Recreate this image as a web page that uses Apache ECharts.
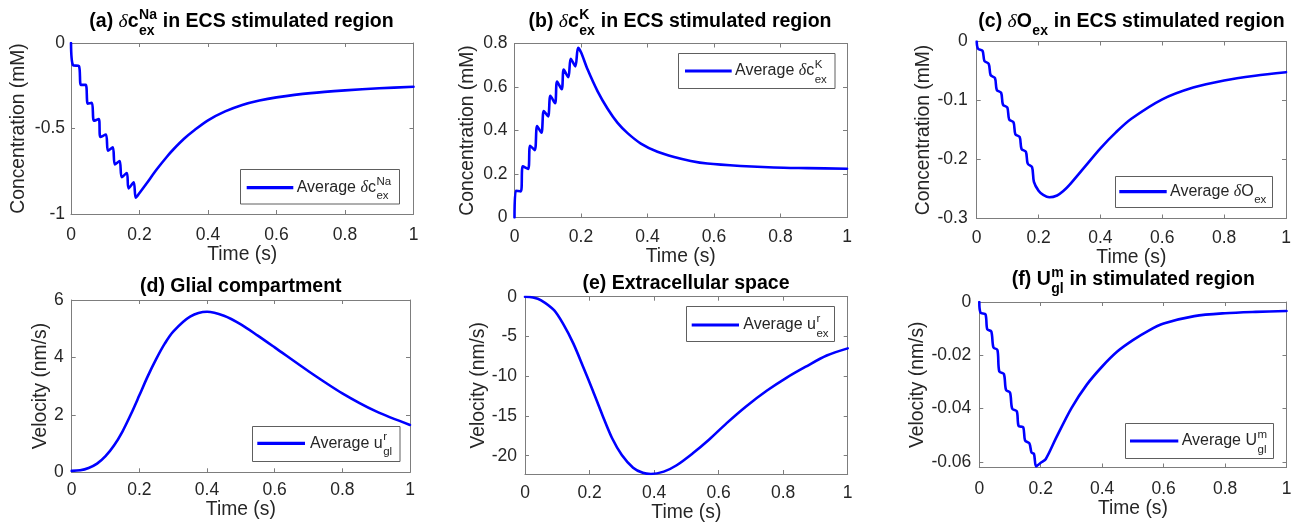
<!DOCTYPE html>
<html>
<head>
<meta charset="utf-8">
<script src="https://cdn.jsdelivr.net/npm/echarts@6/dist/echarts.min.js"></script>
<style>
  html, body { margin: 0; padding: 0; background: #ffffff; }
  #chart { width: 1296px; height: 523px; }
</style>
</head>
<body>
<div id="chart"></div>
<script>
// ---- shared time axis ----
const timeTicks = [0, 0.2, 0.4, 0.6, 0.8, 1];

// (a) sodium concentration change in the ECS (mM)
const naTime  = [0, 0.006, 0.023, 0.029, 0.043, 0.049, 0.061, 0.067, 0.081, 0.086, 0.102, 0.108, 0.122, 0.128, 0.142, 0.148, 0.163, 0.168, 0.183, 0.189, 0.2, 0.22, 0.25, 0.28, 0.3, 0.33, 0.36, 0.4, 0.45, 0.5, 0.55, 0.6, 0.7, 0.8, 0.9, 1.0];
const naValue = [0, -0.13, -0.135, -0.245, -0.245, -0.355, -0.35, -0.455, -0.445, -0.55, -0.535, -0.63, -0.61, -0.71, -0.69, -0.785, -0.76, -0.85, -0.815, -0.905, -0.877, -0.823, -0.74, -0.665, -0.62, -0.56, -0.51, -0.452, -0.4, -0.362, -0.336, -0.318, -0.293, -0.277, -0.265, -0.256];
const naTicks = [-1, -0.5, 0];

// (b) potassium concentration change in the ECS (mM)
const kTime  = [0, 0.004, 0.019, 0.025, 0.041, 0.047, 0.061, 0.068, 0.081, 0.088, 0.101, 0.108, 0.122, 0.128, 0.142, 0.148, 0.162, 0.169, 0.183, 0.191, 0.2, 0.22, 0.25, 0.28, 0.31, 0.34, 0.38, 0.43, 0.48, 0.53, 0.58, 0.68, 0.78, 0.88, 1.0];
const kValue = [0, 0.123, 0.12, 0.235, 0.223, 0.33, 0.31, 0.42, 0.39, 0.49, 0.465, 0.56, 0.525, 0.625, 0.59, 0.68, 0.645, 0.73, 0.695, 0.78, 0.76, 0.68, 0.58, 0.5, 0.435, 0.388, 0.34, 0.302, 0.278, 0.26, 0.248, 0.237, 0.23, 0.227, 0.224];
const kTicks = [0, 0.2, 0.4, 0.6, 0.8];

// (c) oxygen concentration change in the ECS (mM)
const oTime  = [0, 0.004, 0.019, 0.025, 0.039, 0.045, 0.059, 0.065, 0.079, 0.085, 0.099, 0.105, 0.119, 0.125, 0.139, 0.145, 0.159, 0.165, 0.179, 0.185, 0.2, 0.215, 0.235, 0.26, 0.28, 0.3, 0.35, 0.4, 0.45, 0.5, 0.6, 0.7, 0.8, 0.9, 1.0];
const oValue = [0, -0.012, -0.016, -0.033, -0.038, -0.057, -0.062, -0.082, -0.087, -0.107, -0.112, -0.132, -0.137, -0.157, -0.162, -0.182, -0.187, -0.207, -0.213, -0.238, -0.253, -0.26, -0.264, -0.261, -0.2535, -0.243, -0.212, -0.181, -0.154, -0.131, -0.098, -0.078, -0.066, -0.058, -0.052];
const oTicks = [-0.3, -0.2, -0.1, 0];

// (d) radial velocity in the glial compartment (nm/s)
const glTime  = [0, 0.025, 0.05, 0.075, 0.1, 0.125, 0.15, 0.175, 0.2, 0.225, 0.25, 0.275, 0.3, 0.35, 0.4, 0.45, 0.5, 0.55, 0.6, 0.7, 0.8, 0.9, 1.0];
const glValue = [0.05, 0.07, 0.15, 0.3, 0.56, 0.93, 1.42, 2.02, 2.68, 3.35, 3.95, 4.48, 4.9, 5.42, 5.59, 5.45, 5.15, 4.76, 4.35, 3.52, 2.75, 2.12, 1.65];
const glTicks = [0, 2, 4, 6];

// (e) radial velocity in the extracellular space (nm/s)
const exTime  = [0, 0.025, 0.05, 0.09, 0.12, 0.15, 0.18, 0.21, 0.24, 0.27, 0.3, 0.335, 0.365, 0.39, 0.43, 0.47, 0.52, 0.57, 0.625, 0.685, 0.75, 0.81, 0.87, 0.935, 1.0];
const exValue = [0, -0.1, -0.45, -1.7, -3.55, -5.9, -8.8, -11.8, -14.9, -17.8, -19.9, -21.5, -22.15, -22.3, -22.0, -21.2, -19.7, -18.0, -15.9, -13.8, -11.8, -10.2, -8.8, -7.4, -6.5];
const exTicks = [-20, -15, -10, -5, 0];

// (f) glial membrane velocity in the stimulated region (nm/s)
const gmTime  = [0, 0.004, 0.02, 0.026, 0.039, 0.046, 0.059, 0.065, 0.08, 0.087, 0.1, 0.107, 0.122, 0.128, 0.143, 0.149, 0.163, 0.17, 0.178, 0.185, 0.2, 0.216, 0.25, 0.3, 0.35, 0.4, 0.45, 0.5, 0.55, 0.6, 0.7, 0.8, 0.9, 1.0];
const gmValue = [0, -0.004, -0.0046, -0.0103, -0.011, -0.017, -0.018, -0.026, -0.027, -0.033, -0.034, -0.04, -0.041, -0.0465, -0.047, -0.052, -0.053, -0.0565, -0.057, -0.0617, -0.0603, -0.059, -0.051, -0.0398, -0.031, -0.0242, -0.0185, -0.0143, -0.0108, -0.0081, -0.0053, -0.0042, -0.0037, -0.0034];
const gmTicks = [-0.06, -0.04, -0.02, 0];

// ---- fonts & colours ----
const SANS = 'Liberation Sans';
const SERIF = 'Liberation Serif';
const LINE_BLUE = '#0000ff';
const AXIS_GRAY = '#7d7d7d';
const TEXT_DARK = '#262626';

const zip = (xs, ys) => xs.map((x, i) => [x, ys[i]]);

// Panel layout: plot box in pixels plus label placement.
const panels = [
  { name: 'Average δc_ex^Na', time: naTime, value: naValue, ticks: naTicks, yMin: -1, yMax: 0,
    box: [71, 43, 342.5, 171], yName: 'Concentration (mM)', yGap: 43, yMargin: 6, xMargin: 12, xGap: 26 },
  { name: 'Average δc_ex^K', time: kTime, value: kValue, ticks: kTicks, yMin: 0, yMax: 0.8,
    box: [514.5, 43.5, 332.5, 174], yName: 'Concentration (mM)', yGap: 37, yMargin: 7, xMargin: 11, xGap: 23 },
  { name: 'Average δO_ex', time: oTime, value: oValue, ticks: oTicks, yMin: -0.3, yMax: 0,
    box: [976.7, 41.5, 309.3, 177], yName: 'Concentration (mM)', yGap: 44, yMargin: 9, xMargin: 11, xGap: 23 },
  { name: 'Average u_gl^r', time: glTime, value: glValue, ticks: glTicks, yMin: 0, yMax: 6,
    box: [71.7, 300, 338.3, 172.3], yName: 'Velocity (nm/s)', yGap: 21, yMargin: 8, xMargin: 9, xGap: 25 },
  { name: 'Average u_ex^r', time: exTime, value: exValue, ticks: exTicks, yMin: -22.3, yMax: 0,
    box: [525, 296.7, 322.7, 177.3], yName: 'Velocity (nm/s)', yGap: 37, yMargin: 8, xMargin: 10, xGap: 28 },
  { name: 'Average U_gl^m', time: gmTime, value: gmValue, ticks: gmTicks, yMin: -0.0621, yMax: 0,
    box: [979.3, 302, 307.2, 165.5], yName: 'Velocity (nm/s)', yGap: 52, yMargin: 8, xMargin: 13, xGap: 30 }
];

const grid = [], xAxis = [], yAxis = [], series = [];

panels.forEach((p, i) => {
  const [left, top, width, height] = p.box;
  grid.push({ left, top, width, height, show: false, outerBoundsMode: 'none', containLabel: false });

  const tickStyle = { show: true, inside: true, length: 4, lineStyle: { color: AXIS_GRAY, width: 1 } };
  const lineStyle = { show: true, onZero: false, lineStyle: { color: AXIS_GRAY, width: 1 } };

  // bottom x axis with labels
  xAxis.push({
    type: 'value', gridIndex: i, position: 'bottom', min: 0, max: 1,
    axisLine: lineStyle, splitLine: { show: false },
    axisTick: Object.assign({ customValues: timeTicks }, tickStyle),
    axisLabel: { customValues: timeTicks, margin: p.xMargin, color: TEXT_DARK, fontSize: 17.5, fontFamily: SANS },
    name: 'Time (s)', nameLocation: 'middle', nameGap: p.xGap,
    nameTextStyle: { color: TEXT_DARK, fontSize: 19.3, fontFamily: SANS }
  });
  // top x axis closes the box
  xAxis.push({
    type: 'value', gridIndex: i, position: 'top', min: 0, max: 1,
    axisLine: lineStyle, splitLine: { show: false },
    axisTick: Object.assign({ customValues: timeTicks }, tickStyle),
    axisLabel: { show: false }
  });
  // left y axis with labels
  yAxis.push({
    type: 'value', gridIndex: i, position: 'left', min: p.yMin, max: p.yMax,
    axisLine: lineStyle, splitLine: { show: false },
    axisTick: Object.assign({ customValues: p.ticks }, tickStyle),
    axisLabel: { customValues: p.ticks, margin: p.yMargin, color: TEXT_DARK, fontSize: 17.5, fontFamily: SANS },
    name: p.yName, nameLocation: 'middle', nameGap: p.yGap,
    nameTextStyle: { color: TEXT_DARK, fontSize: 19.3, fontFamily: SANS }
  });
  // right y axis closes the box
  yAxis.push({
    type: 'value', gridIndex: i, position: 'right', min: p.yMin, max: p.yMax,
    axisLine: lineStyle, splitLine: { show: false },
    axisTick: Object.assign({ customValues: p.ticks }, tickStyle),
    axisLabel: { show: false }
  });

  series.push({
    type: 'line', name: p.name,
    xAxisIndex: 2 * i, yAxisIndex: 2 * i,
    data: zip(p.time, p.value),
    showSymbol: false, symbol: 'none',
    smooth: 0.3,
    lineStyle: { color: LINE_BLUE, width: 2.6, join: 'round', cap: 'round' },
    clip: true, z: 3
  });
});

// ---- text runs with stacked super/subscripts ----
const measureCtx = document.createElement('canvas').getContext('2d');
function widthOf(str, size, weight, style, family) {
  measureCtx.font = `${style} ${weight} ${size}px "${family}"`;
  return measureCtx.measureText(str).width;
}

// piece: {t} plain text, or {sup, sub} stacked scripts; options per run
function textRun(pieces, opt) {
  const els = [];
  const main = opt.size, small = opt.scriptSize;
  const items = pieces.map(pc => {
    const weight = pc.weight || opt.weight;
    const style = pc.italic ? 'italic' : 'normal';
    const family = pc.serif ? SERIF : SANS;
    if (pc.t !== undefined) {
      return { kind: 't', pc, weight, style, family, w: widthOf(pc.t, main, weight, style, family) };
    }
    const w = Math.max(pc.sup ? widthOf(pc.sup, small, weight, style, family) : 0,
                       pc.sub ? widthOf(pc.sub, small, weight, style, family) : 0);
    return { kind: 's', pc, weight, style, family, w: w + 1 };
  });
  const total = items.reduce((s, it) => s + it.w, 0);
  let x = opt.align === 'center' ? opt.x - total / 2 : opt.x;
  items.forEach(it => {
    const base = { fill: opt.color, fontWeight: it.weight, fontStyle: it.style, fontFamily: it.family,
                   textAlign: 'left', textVerticalAlign: 'middle', verticalAlign: 'middle' };
    if (it.kind === 't') {
      els.push({ type: 'text', z: 100, x, y: opt.y, silent: true,
                 style: Object.assign({ text: it.pc.t, fontSize: main }, base) });
    } else {
      if (it.pc.sup) els.push({ type: 'text', z: 100, x: x + 0.5, y: opt.y + opt.supDy, silent: true,
                                style: Object.assign({ text: it.pc.sup, fontSize: small }, base) });
      if (it.pc.sub) els.push({ type: 'text', z: 100, x: x + 0.5, y: opt.y + opt.subDy, silent: true,
                                style: Object.assign({ text: it.pc.sub, fontSize: small }, base) });
    }
    x += it.w;
  });
  return els;
}

const titleOpt = { size: 19.5, scriptSize: 14, weight: 'bold', color: '#000000', align: 'center', supDy: -7, subDy: 9.5 };
const titles = [
  { x: 241.5, y: 21.7, pieces: [{ t: '(a) ' }, { t: 'δ', italic: true, serif: true, weight: 'normal' }, { t: 'c' }, { sup: 'Na', sub: 'ex' }, { t: ' in ECS stimulated region' }] },
  { x: 680, y: 21.7, pieces: [{ t: '(b) ' }, { t: 'δ', italic: true, serif: true, weight: 'normal' }, { t: 'c' }, { sup: 'K', sub: 'ex' }, { t: ' in ECS stimulated region' }] },
  { x: 1131.5, y: 21.7, pieces: [{ t: '(c) ' }, { t: 'δ', italic: true, serif: true, weight: 'normal' }, { t: 'O' }, { sub: 'ex' }, { t: ' in ECS stimulated region' }] },
  { x: 240.8, y: 286.7, pieces: [{ t: '(d) Glial compartment' }] },
  { x: 686, y: 284, pieces: [{ t: '(e) Extracellular space' }] },
  { x: 1133.3, y: 280, pieces: [{ t: '(f) U' }, { sup: 'm', sub: 'gl' }, { t: ' in stimulated region' }] }
];

const legendOpt = { size: 16, scriptSize: 11.5, weight: 'normal', color: TEXT_DARK, align: 'left', supDy: -6, subDy: 8.5 };
const legends = [
  { box: [240.5, 169.5, 159, 34.5], line: [246.7, 293.3], y: 187.7, tx: 296.7,
    pieces: [{ t: 'Average ' }, { t: 'δ', italic: true, serif: true }, { t: 'c' }, { sup: 'Na', sub: 'ex' }] },
  { box: [678.5, 53.5, 156.5, 35], line: [685, 731.7], y: 71, tx: 735,
    pieces: [{ t: 'Average ' }, { t: 'δ', italic: true, serif: true }, { t: 'c' }, { sup: 'K', sub: 'ex' }] },
  { box: [1115.5, 176.5, 157, 31], line: [1119.3, 1166.7], y: 191.7, tx: 1170,
    pieces: [{ t: 'Average ' }, { t: 'δ', italic: true, serif: true }, { t: 'O' }, { sub: 'ex' }] },
  { box: [252.5, 426.5, 147.5, 35], line: [257.3, 305], y: 443.3, tx: 310,
    pieces: [{ t: 'Average u' }, { sup: 'r', sub: 'gl' }] },
  { box: [686.5, 306.5, 148, 35], line: [691.7, 739], y: 325, tx: 743.3,
    pieces: [{ t: 'Average u' }, { sup: 'r', sub: 'ex' }] },
  { box: [1125.5, 423.5, 148, 35], line: [1130, 1178.3], y: 441, tx: 1181.7,
    pieces: [{ t: 'Average U' }, { sup: 'm', sub: 'gl' }] }
];

const graphic = [];
titles.forEach(tt => {
  graphic.push(...textRun(tt.pieces, Object.assign({}, titleOpt, { x: tt.x, y: tt.y })));
});
legends.forEach(lg => {
  const [bx, by, bw, bh] = lg.box;
  graphic.push({ type: 'rect', z: 90, silent: true, shape: { x: bx, y: by, width: bw, height: bh },
                 style: { fill: '#ffffff', stroke: '#5e5e5e', lineWidth: 1 } });
  graphic.push({ type: 'line', z: 95, silent: true, shape: { x1: lg.line[0], y1: lg.y, x2: lg.line[1], y2: lg.y },
                 style: { stroke: LINE_BLUE, lineWidth: 3.2 } });
  graphic.push(...textRun(lg.pieces, Object.assign({}, legendOpt, { x: lg.tx, y: lg.y })));
});

const chart = echarts.init(document.getElementById('chart'), null, { renderer: 'canvas' });
chart.setOption({
  animation: false,
  backgroundColor: '#ffffff',
  grid, xAxis, yAxis, series, graphic
});
</script>
</body>
</html>
